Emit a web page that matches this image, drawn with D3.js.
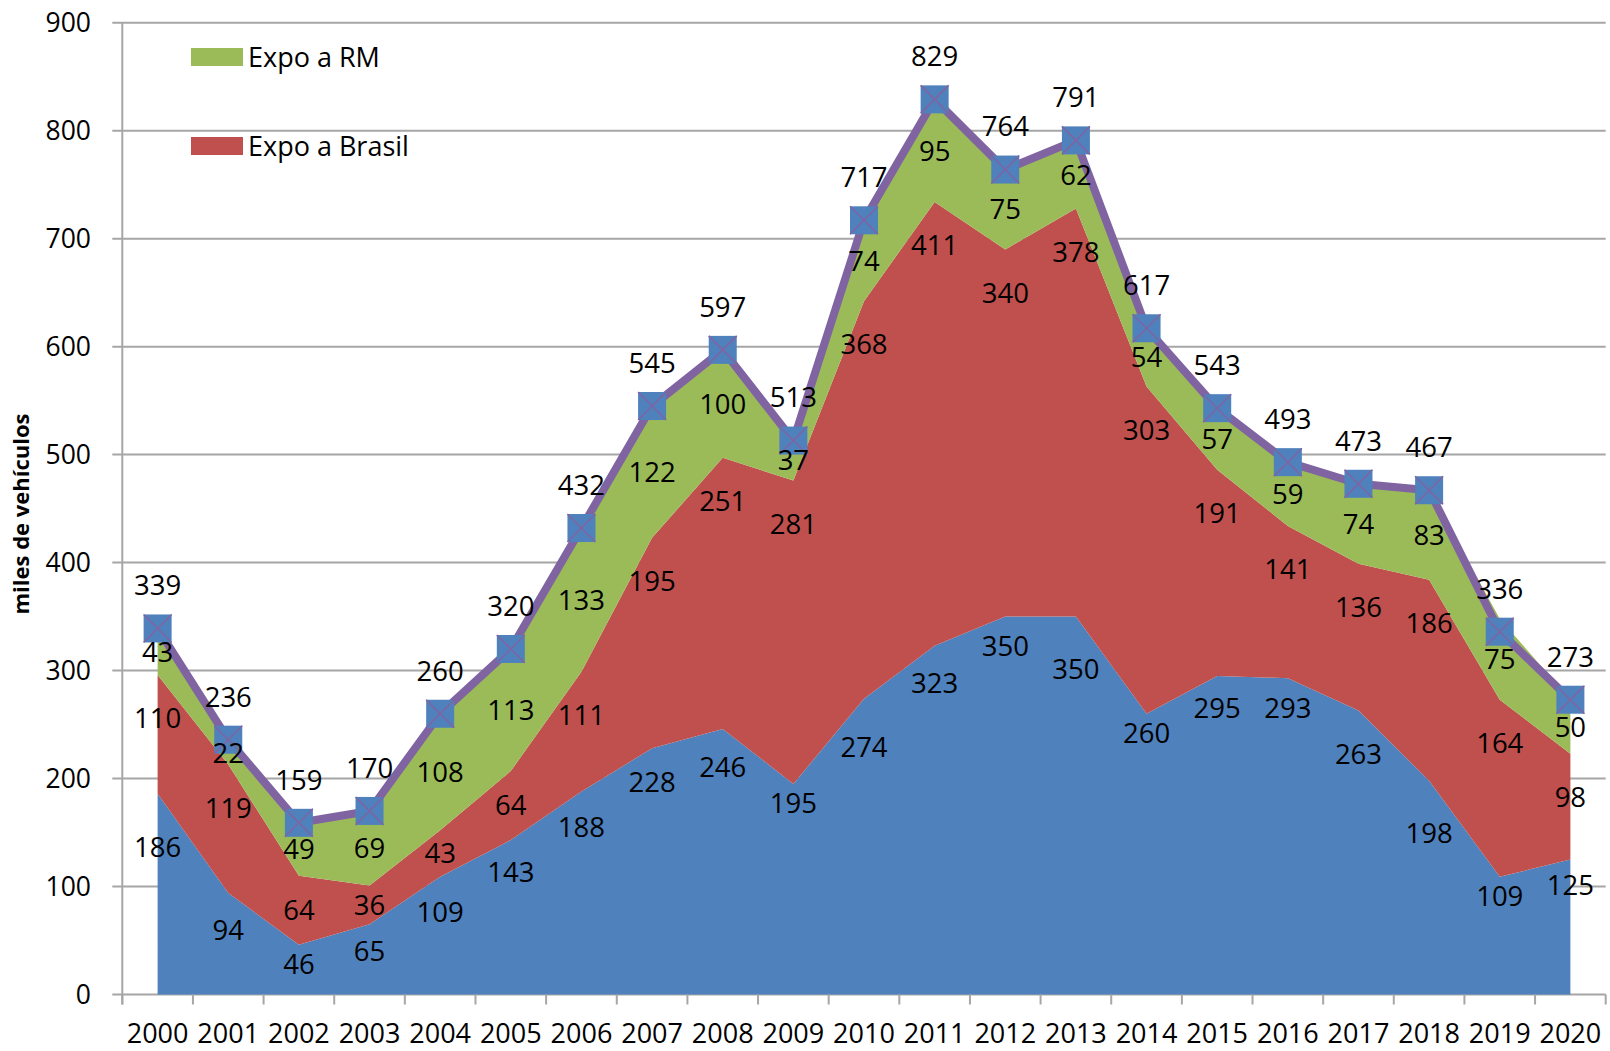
<!DOCTYPE html>
<html>
<head>
<meta charset="utf-8">
<script src="https://cdn.jsdelivr.net/npm/d3@7"></script>
<style>
  html, body { margin: 0; padding: 0; background: #fff; }
  svg { display: block; font-family: 'Open Sans', 'DejaVu Sans', sans-serif; }
</style>
</head>
<body>
<svg id="chart" width="1610" height="1051"></svg>
<script>
// categories
const years = ['2000', '2001', '2002', '2003', '2004', '2005', '2006', '2007', '2008', '2009', '2010',
  '2011', '2012', '2013', '2014', '2015', '2016', '2017', '2018', '2019', '2020'];

// series, miles de vehiculos
const mercadoInterno = [186, 94, 46, 65, 109, 143, 188, 228, 246, 195, 274, 323, 350, 350, 260, 295, 293, 263, 198, 109, 125];
const expoBrasil = [110, 119, 64, 36, 43, 64, 111, 195, 251, 281, 368, 411, 340, 378, 303, 191, 141, 136, 186, 164, 98];
const expoRM = [43, 22, 49, 69, 108, 113, 133, 122, 100, 37, 74, 95, 75, 62, 54, 57, 59, 74, 83, 75, 50];
const totals = [339, 236, 159, 170, 260, 320, 432, 545, 597, 513, 717, 829, 764, 791, 617, 543, 493, 473, 467, 336, 273];

const yTicks = [0, 100, 200, 300, 400, 500, 600, 700, 800, 900];
const legendItems = [
  { key: 'rm', label: 'Expo a RM' },
  { key: 'brasil', label: 'Expo a Brasil' }
];

const colors = { interno: '#4F81BD', brasil: '#C0504D', rm: '#9BBB59', total: '#8064A2' };

const W = 1610;
const H = 1051;
const margin = { top: 22.7, right: 4.3, bottom: 56.5, left: 122.3 };
const svg = d3.select('#chart');

const x = d3.scaleBand().domain(years).range([margin.left, W - margin.right]);
const y = d3.scaleLinear().domain([0, 900]).range([H - margin.bottom, margin.top]);
const cx = d => x(d) + x.bandwidth() / 2;

const table = years.map((year, i) => ({
  year,
  interno: mercadoInterno[i],
  brasil: expoBrasil[i],
  rm: expoRM[i],
  total: totals[i]
}));

const stack = d3.stack().keys(['interno', 'brasil', 'rm']);
const layers = stack(table);

// gridlines
const gridColor = '#a6a6a6';
svg.append('g')
  .selectAll('line')
  .data(yTicks)
  .join('line')
  .attr('x1', margin.left - 10)
  .attr('x2', W - margin.right)
  .attr('y1', d => y(d))
  .attr('y2', d => y(d))
  .attr('stroke', gridColor)
  .attr('stroke-width', 2);

// areas
const area = d3.area()
  .x(d => cx(d.data.year))
  .y0(d => y(d[0]))
  .y1(d => y(d[1]));

svg.append('g')
  .selectAll('path')
  .data(layers)
  .join('path')
  .attr('d', area)
  .attr('fill', d => colors[d.key]);

// axes
svg.append('line')
  .attr('x1', margin.left).attr('x2', margin.left)
  .attr('y1', y(900)).attr('y2', y(0) + 10)
  .attr('stroke', gridColor).attr('stroke-width', 2);

svg.append('g')
  .selectAll('line')
  .data(years.concat(['end']))
  .join('line')
  .attr('x1', d => (d === 'end' ? W - margin.right : x(d)))
  .attr('x2', d => (d === 'end' ? W - margin.right : x(d)))
  .attr('y1', y(0))
  .attr('y2', y(0) + 10)
  .attr('stroke', gridColor)
  .attr('stroke-width', 2);

svg.append('g')
  .selectAll('text')
  .data(yTicks)
  .join('text')
  .attr('x', 91)
  .attr('y', d => y(d))
  .attr('dy', '0.36em')
  .attr('text-anchor', 'end')
  .attr('font-size', 26.5)
  .attr('fill', '#000')
  .text(d => d);

svg.append('g')
  .selectAll('text')
  .data(years)
  .join('text')
  .attr('x', d => cx(d))
  .attr('y', 1033)
  .attr('dy', '0.36em')
  .attr('text-anchor', 'middle')
  .attr('font-size', 27)
  .attr('fill', '#000')
  .text(d => d);

svg.append('text')
  .attr('transform', 'translate(29, 514) rotate(-90)')
  .attr('text-anchor', 'middle')
  .attr('font-size', 22)
  .attr('font-weight', 'bold')
  .attr('fill', '#000')
  .text('miles de vehículos');

// total line with markers
const line = d3.line().x(d => cx(d.year)).y(d => y(d.total));
svg.append('path')
  .datum(table)
  .attr('d', line)
  .attr('fill', 'none')
  .attr('stroke', colors.total)
  .attr('stroke-width', 8)
  .attr('stroke-linejoin', 'round');

const ms = 14;
const markers = svg.append('g')
  .selectAll('g')
  .data(table)
  .join('g')
  .attr('transform', d => `translate(${cx(d.year)}, ${y(d.total)})`);
markers.append('rect')
  .attr('x', -ms).attr('y', -ms)
  .attr('width', ms * 2).attr('height', ms * 2)
  .attr('fill', colors.interno);
markers.append('path')
  .attr('d', `M${-ms},${-ms}L${ms},${ms}M${ms},${-ms}L${-ms},${ms}`)
  .attr('stroke', colors.total)
  .attr('stroke-width', 1.5);

// data labels
const labelGroup = svg.append('g')
  .attr('font-size', 27.5)
  .attr('fill', '#000')
  .attr('text-anchor', 'middle');

// lowest value of a band's top edge under a label about 48px wide
const frac = 24 / x.bandwidth();
function edgeMin(layer, i) {
  const top = layer[i][1];
  const left = i > 0 ? top + (layer[i - 1][1] - top) * frac : top;
  const right = i < layer.length - 1 ? top + (layer[i + 1][1] - top) * frac : top;
  return Math.min(top, left, right);
}

layers.forEach(layer => {
  layer.forEach((d, i) => {
    const mid = (d[0] + d[1]) / 2;
    let pos = mid;
    if (layer.key === 'brasil') pos = Math.max(mid, d[1] - 40);
    if (layer.key === 'interno') pos = Math.max(mid, edgeMin(layer, i) - 18);
    labelGroup.append('text')
      .attr('x', cx(d.data.year))
      .attr('y', y(pos))
      .attr('dy', '0.36em')
      .text(d.data[layer.key]);
  });
});

labelGroup.selectAll('.total-label')
  .data(table)
  .join('text')
  .attr('class', 'total-label')
  .attr('x', d => cx(d.year))
  .attr('y', d => y(d.total) - 43)
  .attr('dy', '0.36em')
  .text(d => d.total);

// legend
const legend = svg.append('g')
  .selectAll('g')
  .data(legendItems)
  .join('g')
  .attr('transform', (d, i) => `translate(191, ${48 + i * 89})`);
legend.append('rect')
  .attr('width', 52)
  .attr('height', 18)
  .attr('fill', d => colors[d.key]);
legend.append('text')
  .attr('x', 57)
  .attr('y', 9)
  .attr('dy', '0.36em')
  .attr('font-size', 27)
  .attr('fill', '#000')
  .text(d => d.label);
</script>
</body>
</html>
